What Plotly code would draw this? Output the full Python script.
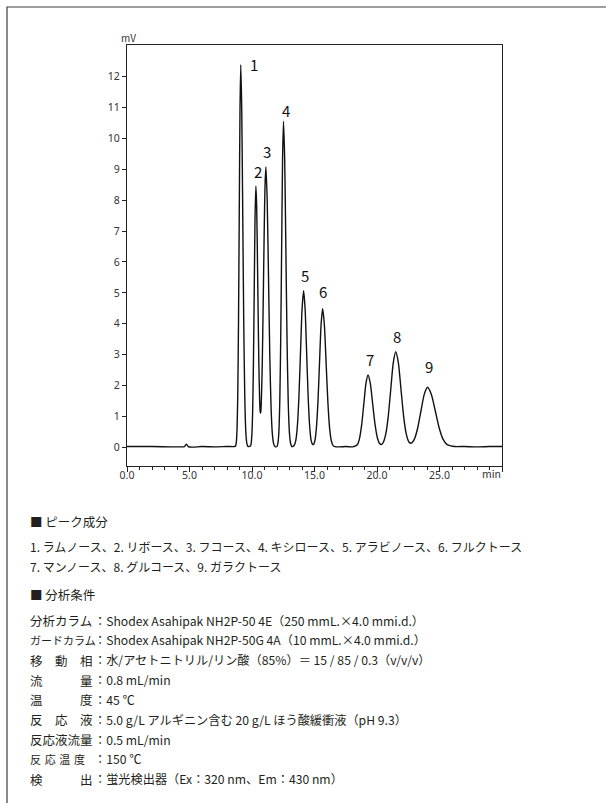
import plotly.graph_objects as go

# ---------------- data ----------------
time_min = [0.0, 2.0, 4.0, 4.6, 4.75, 4.9, 5.2, 6.0, 7.0, 8.0, 8.6,
            8.68, 8.74, 8.80, 8.86, 8.92, 8.98, 9.04, 9.10, 9.18, 9.26, 9.34, 9.42, 9.50, 9.58, 9.66,
            9.75, 9.855, 9.92, 9.985, 10.05, 10.115, 10.18, 10.245, 10.31,
            10.37, 10.43, 10.49, 10.55, 10.61, 10.65, 10.68, 10.71, 10.74, 10.80, 10.86, 10.92, 10.98, 11.04, 11.11,
            11.215, 11.32, 11.425, 11.53, 11.635, 11.74, 11.845,
            11.995, 12.07, 12.145, 12.22, 12.295, 12.37, 12.445, 12.52, 12.615, 12.71, 12.805, 12.90, 12.995, 13.09, 13.185,
            13.255, 13.38, 13.505, 13.63, 13.755, 13.88, 14.005, 14.13, 14.25, 14.37, 14.49, 14.61, 14.73, 14.85, 14.93,
            15.025, 15.15, 15.275, 15.40, 15.525, 15.65, 15.79, 15.93, 16.07, 16.21, 16.35, 16.49, 16.63,
            17.0, 17.5, 18.0,
            18.125, 18.29, 18.455, 18.62, 18.785, 18.95, 19.115, 19.28, 19.465, 19.65, 19.835, 20.02, 20.205, 20.38,
            20.50, 20.70, 20.90, 21.10, 21.30, 21.50, 21.71, 21.92, 22.13, 22.34, 22.55,
            22.74, 23.00, 23.26, 23.52, 23.78, 24.04, 24.35, 24.66, 24.97, 25.28, 25.59, 25.90, 26.21,
            27.0, 28.0, 29.0, 30.0]
signal_mv = [0.02, 0.02, 0.01, 0.02, 0.10, 0.02, 0.00, 0.02, 0.01, 0.02, 0.02,
             0.03, 0.14, 0.54, 1.68, 4.02, 7.51, 10.93, 12.39, 10.93, 7.51, 4.02, 1.68, 0.54, 0.14, 0.03,
             0.02, 0.03, 0.09, 0.37, 1.14, 2.75, 5.13, 7.47, 8.46,
             7.85, 6.28, 4.34, 2.64, 1.54, 1.17, 1.10, 1.17, 1.41, 2.29, 3.66, 5.36, 7.09, 8.45, 9.08,
             8.01, 5.51, 2.95, 1.23, 0.40, 0.10, 0.02,
             0.02, 0.12, 0.46, 1.43, 3.43, 6.40, 9.32, 10.56, 9.32, 6.40, 3.43, 1.43, 0.46, 0.12, 0.02,
             0.02, 0.06, 0.22, 0.69, 1.65, 3.07, 4.47, 5.07, 4.47, 3.07, 1.65, 0.69, 0.22, 0.09, 0.09,
             0.20, 0.61, 1.46, 2.72, 3.96, 4.49, 3.96, 2.72, 1.46, 0.61, 0.20, 0.05, 0.02,
             0.01, 0.02, 0.01,
             0.02, 0.04, 0.10, 0.32, 0.76, 1.42, 2.07, 2.34, 2.07, 1.42, 0.76, 0.32, 0.12, 0.09,
             0.15, 0.42, 1.00, 1.87, 2.73, 3.09, 2.73, 1.87, 1.00, 0.43, 0.17,
             0.13, 0.27, 0.63, 1.18, 1.71, 1.94, 1.71, 1.18, 0.63, 0.26, 0.09, 0.04, 0.02,
             0.02, 0.01, 0.02, 0.02]

peak_ids = ["1", "2", "3", "4", "5", "6", "7", "8", "9"]
peak_rt = [9.10, 10.31, 11.11, 12.52, 14.13, 15.65, 19.28, 21.50, 24.04]
peak_height = [12.39, 8.46, 9.08, 10.56, 5.07, 4.49, 2.34, 3.09, 1.94]

x_tick_vals = [0, 5, 10, 15, 20, 25, 30]
x_tick_text = ["0.0", "5.0", "10.0", "15.0", "20.0", "25.0", ""]
y_tick_vals = list(range(0, 13))
x_unit = "min"
y_unit = "mV"

components_title = "■ ピーク成分"
components_lines = [
    "1. ラムノース、2. リボース、3. フコース、4. キシロース、5. アラビノース、6. フルクトース",
    "7. マンノース、8. グルコース、9. ガラクトース",
]
conditions_title = "■ 分析条件"
condition_labels = ["分析カラム", "ガードカラム", "移\u3000動\u3000相", "流\u3000\u3000\u3000量",
                    "温\u3000\u3000\u3000度", "反\u3000応\u3000液", "反応液流量",
                    "反\u2004応\u2004温\u2004度", "検\u3000\u3000\u3000出"]
condition_values = [
    "Shodex Asahipak NH2P-50 4E（250 mmL.×4.0 mmi.d.）",
    "Shodex Asahipak NH2P-50G 4A（10 mmL.×4.0 mmi.d.）",
    "水/アセトニトリル/リン酸（85%）＝ 15 / 85 / 0.3（v/v/v）",
    "0.8 mL/min",
    "45 ℃",
    "5.0 g/L アルギニン含む 20 g/L ほう酸緩衝液（pH 9.3）",
    "0.5 mL/min",
    "150 ℃",
    "蛍光検出器（Ex：320 nm、Em：430 nm）",
]

# ---------------- layout helpers ----------------
W, H = 606, 803
ML, MR, MT, MB = 127, 104, 45, 337
PW = W - ML - MR
PH = H - MT - MB
BOTTOM = H - MB


def pxx(x):
    return (x - ML) / PW


def pxy(y):
    return (BOTTOM - y) / PH


JP = "Noto Sans CJK JP, Noto Sans, sans-serif"
TXT = "#231f20"

fig = go.Figure()
fig.add_trace(go.Scatter(x=time_min, y=signal_mv, mode="lines",
                         line=dict(color="#111111", width=1.4, shape="spline", smoothing=0.6),
                         hoverinfo="skip", showlegend=False))

# peak number labels
label_dx = [1.05, 0.16, 0.11, 0.19, 0.08, 0.05, 0.16, 0.13, 0.13]
label_dy = [0.0, 0.46, 0.51, 0.36, 0.48, 0.55, 0.49, 0.49, 0.67]
annotations = []
for pid, rt, h, dx, dy in zip(peak_ids, peak_rt, peak_height, label_dx, label_dy):
    annotations.append(dict(x=rt + dx, y=h + dy, xref="x", yref="y", text=pid, showarrow=False,
                            xanchor="center", yanchor="middle",
                            font=dict(family=JP, size=15, color="#111111")))

# axis units
annotations.append(dict(x=pxx(128), y=pxy(38), xref="paper", yref="paper", text=y_unit,
                        showarrow=False, xanchor="center", yanchor="middle",
                        font=dict(family=JP, size=10, color="#333333")))
annotations.append(dict(x=pxx(503), y=pxy(473), xref="paper", yref="paper", text=x_unit,
                        showarrow=False, xanchor="right", yanchor="middle",
                        font=dict(family=JP, size=10.5, color="#333333")))

# text block
FS = 12.5
VS = 12.2
annotations.append(dict(x=pxx(28), y=pxy(521.5), xref="paper", yref="paper", text=components_title,
                        showarrow=False, xanchor="left", yanchor="middle",
                        font=dict(family=JP, size=FS, color=TXT)))
for i, line in enumerate(components_lines):
    annotations.append(dict(x=pxx(28), y=pxy(546 + 20 * i), xref="paper", yref="paper", text=line,
                            showarrow=False, xanchor="left", yanchor="middle",
                            font=dict(family=JP, size=12, color=TXT)))
annotations.append(dict(x=pxx(28), y=pxy(594), xref="paper", yref="paper", text=conditions_title,
                        showarrow=False, xanchor="left", yanchor="middle",
                        font=dict(family=JP, size=FS, color=TXT)))
for i, (lab, val) in enumerate(zip(condition_labels, condition_values)):
    yy = 620.5 + 19.85 * i
    lab_size = 11 if len(lab) > 5 else FS
    annotations.append(dict(x=pxx(28), y=pxy(yy), xref="paper", yref="paper", text=lab,
                            showarrow=False, xanchor="left", yanchor="middle",
                            font=dict(family=JP, size=lab_size, color=TXT)))
    annotations.append(dict(x=pxx(92), y=pxy(yy), xref="paper", yref="paper", text="：" + val,
                            showarrow=False, xanchor="left", yanchor="middle",
                            font=dict(family=JP, size=VS, color=TXT)))

shapes = [dict(type="rect", xref="paper", yref="paper",
               x0=pxx(7), x1=pxx(620), y0=pxy(820), y1=pxy(7),
               line=dict(color="#3a3a3a", width=1.2), fillcolor="rgba(0,0,0,0)", layer="below")]

axis_font = dict(family="Noto Sans, sans-serif", size=10.5, color="#333333")
fig.update_layout(
    width=W, height=H, autosize=False,
    margin=dict(l=ML, r=MR, t=MT, b=MB, pad=0),
    paper_bgcolor="white", plot_bgcolor="white",
    showlegend=False,
    annotations=annotations,
    shapes=shapes,
    xaxis=dict(range=[0, 30], tickmode="array", tickvals=x_tick_vals, ticktext=x_tick_text,
               ticks="outside", ticklen=5, tickwidth=1, tickcolor="#222222",
               ticklabelstandoff=-6,
               minor=dict(dtick=1, tick0=0, ticks="outside", ticklen=3, tickwidth=1, tickcolor="#222222",
                          showgrid=False),
               showline=True, linecolor="#222222", linewidth=1.2, mirror=True,
               showgrid=False, zeroline=False, tickfont=axis_font, fixedrange=True),
    yaxis=dict(range=[-0.61, 13.03], tickmode="array", tickvals=y_tick_vals,
               ticktext=[str(v) for v in y_tick_vals],
               ticks="outside", ticklen=4, tickwidth=1, tickcolor="#222222",
               showline=True, linecolor="#222222", linewidth=1.2, mirror=True,
               showgrid=False, zeroline=False, tickfont=axis_font, fixedrange=True),
)

fig.write_html("out.html", config={"displayModeBar": False},
               post_script="document.body.style.margin='0';document.body.style.overflow='hidden';")
